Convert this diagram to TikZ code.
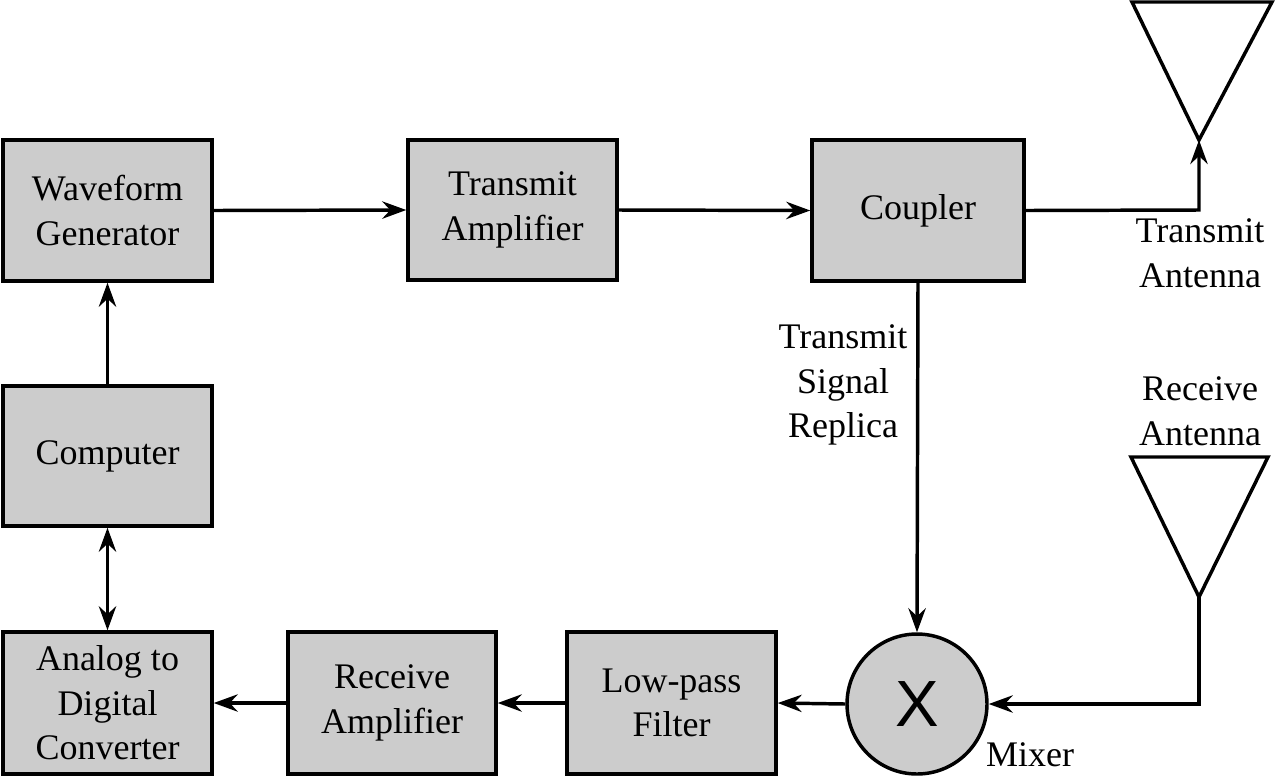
\documentclass[tikz,border=0pt]{standalone}
\usepackage{fontspec}
\setmainfont{Liberation Serif}
\newfontfamily\serifX{Liberation Serif}
\newfontfamily\sansX{Liberation Sans}
\usetikzlibrary{arrows.meta}
\definecolor{boxgray}{HTML}{CCCCCC}
\begin{document}
\begin{tikzpicture}[x=0.75pt,y=-0.75pt,
  line width=2.6pt,
  blk/.style={draw,fill=boxgray,align=center,inner sep=0pt,
    font=\serifX\fontsize{27}{33.5}\selectfont,minimum width=156.75pt},
  lbl/.style={align=center,inner sep=0pt,font=\serifX\fontsize{27}{33.5}\selectfont},
  arr/.style={-{Stealth[length=18pt,width=13pt,inset=6pt]}},
  darr/.style={{Stealth[length=18pt,width=13pt,inset=6pt]}-{Stealth[length=18pt,width=13pt,inset=6pt]}}]
\useasboundingbox (0,0) rectangle (1275,776);
% blocks
\node[blk,minimum height=105.75pt] (wg) at (107.5,210.5) {Waveform\\Generator};
\node[blk,minimum height=105pt] (ta) at (512.5,210) {Transmit\\Amplifier};
\node[blk,minimum width=159pt,minimum height=105.75pt] (cp) at (918,210.5) {Coupler};
\node[blk,minimum height=105pt] (comp) at (107.5,456) {Computer};
\node[blk,minimum height=106.5pt] (adc) at (107.5,703) {Analog to\\Digital\\Converter};
\node[blk,minimum width=156pt,minimum height=106.5pt] (ra) at (392,703) {Receive\\Amplifier};
\node[blk,minimum height=106.5pt] (lpf) at (671.5,703) {Low-pass\\Filter};
\node[circle,draw,fill=boxgray,minimum size=105pt,inner sep=0pt,
  font=\sansX\fontsize{49}{49}\selectfont] (mx) at (917,704) {X};
% antennas
\coordinate (txa) at (1199,140);
\coordinate (rxa) at (1199,597);
\draw[line join=miter] (1132,2) -- (1272,2) -- (txa) -- cycle;
\draw[line join=miter] (1131,457) -- (1268,457) -- (rxa) -- cycle;
\coordinate (txc) at (1199,210);
\coordinate (rxc) at (1199,704);
% labels
\node[lbl] (ltx) at (1200,253) {Transmit\\Antenna};
\node[lbl] (lrx) at (1200,411) {Receive\\Antenna};
\node[lbl] (lts) at (843,385) {Transmit\\Signal\\Replica};
\node[lbl] (lmx) at (1030,755) {Mixer};
% connectors
\draw[arr] (wg.east) -- (ta.west);
\draw[arr] (ta.east) -- (cp.west);
\draw[arr] (cp.east) -- (txc) -- (txa);
\draw[arr] (cp.south) -- (mx.north);
\draw[arr] (rxa) -- (rxc) -- (mx.east);
\draw[arr] (mx.west) -- (lpf.east);
\draw[arr] (lpf.west) -- (ra.east);
\draw[arr] (ra.west) -- (adc.east);
\draw[darr] (comp.south) -- (adc.north);
\draw[arr] (comp.north) -- (wg.south);
\end{tikzpicture}
\end{document}
